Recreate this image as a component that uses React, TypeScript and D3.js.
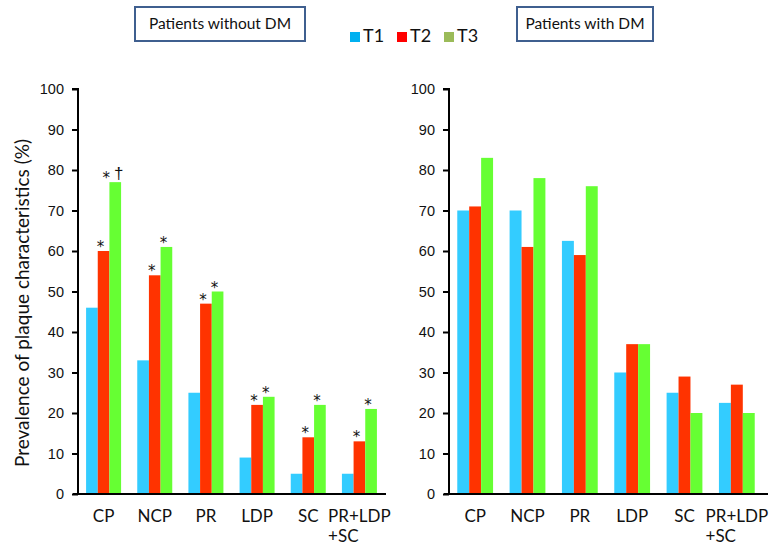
import React, { useEffect, useRef } from "react";
import * as d3 from "d3";

const categories = ["CP", "NCP", "PR", "LDP", "SC", "PR+LDP\n+SC"];
const seriesNames = ["T1", "T2", "T3"];

// Patients without DM
const noDmT1 = [46, 33, 25, 9, 5, 5];
const noDmT2 = [60, 54, 47, 22, 14, 13];
const noDmT3 = [77, 61, 50, 24, 22, 21];
// significance marks (without DM)
const noDmMarkT2 = ["*", "*", "*", "*", "*", "*"];
const noDmMarkT3 = ["*†", "*", "*", "*", "*", "*"];

// Patients with DM
const dmT1 = [70, 70, 62.5, 30, 25, 22.5];
const dmT2 = [71, 61, 59, 37, 29, 27];
const dmT3 = [83, 78, 76, 37, 20, 20];

const yTicks = [0, 10, 20, 30, 40, 50, 60, 70, 80, 90, 100];

const barColors = ["#33ccff", "#ff3300", "#66ff33"];
const legendColors = ["#00b0f0", "#ff0000", "#9bbb59"];

const W = 769;
const H = 547;
const textFont = "Lato, 'Open Sans', sans-serif";
const numFont = "'Liberation Sans', Arial, sans-serif";
const starFont = "'DejaVu Sans', sans-serif";

export default function App() {
  const ref = useRef<SVGSVGElement | null>(null);

  useEffect(() => {
    const svg = d3.select(ref.current);
    svg.selectAll("*").remove();

    const y = d3.scaleLinear().domain([0, 100]).range([494, 89]);

    const panels = [
      {
        x0: 78,
        x1: 385,
        axisEnd: 386,
        series: [noDmT1, noDmT2, noDmT3],
        marks: [null, noDmMarkT2, noDmMarkT3],
      },
      {
        x0: 449,
        x1: 763,
        axisEnd: 768,
        series: [dmT1, dmT2, dmT3],
        marks: [null, null, null],
      },
    ];

    panels.forEach((p) => {
      const g = svg.append("g");
      const x = d3
        .scaleBand<string>()
        .domain(categories)
        .range([p.x0, p.x1])
        .paddingInner(0.316)
        .paddingOuter(0.158);
      const xs = d3
        .scaleBand<string>()
        .domain(seriesNames)
        .range([0, x.bandwidth()]);

      // bars
      p.series.forEach((vals, si) => {
        g.selectAll(null)
          .data(vals)
          .enter()
          .append("rect")
          .attr("x", (_d, i) => (x(categories[i]) as number) + (xs(seriesNames[si]) as number))
          .attr("y", (d) => y(d))
          .attr("width", xs.bandwidth())
          .attr("height", (d) => y(0) - y(d))
          .attr("fill", barColors[si]);

        const marks = p.marks[si];
        if (marks) {
          marks.forEach((m, i) => {
            const cx =
              (x(categories[i]) as number) +
              (xs(seriesNames[si]) as number) +
              xs.bandwidth() / 2;
            const top = y(vals[i]);
            const hasDagger = m.indexOf("†") >= 0;
            g.append("text")
              .attr("x", hasDagger ? cx - 9 : cx - 3)
              .attr("y", top + 1)
              .attr("text-anchor", "middle")
              .attr("font-family", starFont)
              .attr("font-size", 15)
              .attr("fill", "#111")
              .text("*");
            if (hasDagger) {
              g.append("text")
                .attr("x", cx + 3.5)
                .attr("y", top - 3)
                .attr("text-anchor", "middle")
                .attr("font-family", numFont)
                .attr("font-size", 17)
                .attr("fill", "#111")
                .text("†");
            }
          });
        }
      });

      // y axis
      const yAxis = d3
        .axisLeft(y)
        .tickValues(yTicks)
        .tickSize(6)
        .tickPadding(8);
      const ya = g
        .append("g")
        .attr("transform", `translate(${p.x0},0)`)
        .call(yAxis);
      ya.select(".domain").attr("stroke", "#000").attr("stroke-width", 2).attr("d", `M-6,${y(100)}H0V${y(0)}`);
      ya.selectAll(".tick line").attr("stroke", "#000").attr("stroke-width", 2);
      ya.selectAll(".tick text")
        .attr("font-family", numFont)
        .attr("font-size", 14.5)
        .attr("fill", "#111");

      // x axis line
      g.append("line")
        .attr("x1", p.x0 - 5)
        .attr("x2", p.axisEnd)
        .attr("y1", y(0))
        .attr("y2", y(0))
        .attr("stroke", "#000")
        .attr("stroke-width", 2);

      // category labels
      categories.forEach((c) => {
        const lines = c.split("\n");
        const cx = (x(c) as number) + x.bandwidth() / 2;
        const t = g
          .append("text")
          .attr("x", cx)
          .attr("y", 522)
          .attr("text-anchor", "middle")
          .attr("font-family", textFont)
          .attr("font-size", 17)
          .attr("fill", "#111")
          .text(lines[0]);
        if (lines.length > 1) {
          const w = (t.node() as SVGTextElement).getComputedTextLength();
          g.append("text")
            .attr("x", cx - w / 2)
            .attr("y", 542)
            .attr("font-family", textFont)
            .attr("font-size", 17)
            .attr("fill", "#111")
            .text(lines[1]);
        }
      });
    });

    // y axis title
    svg
      .append("text")
      .attr("transform", `translate(29,303) rotate(-90)`)
      .attr("text-anchor", "middle")
      .attr("font-family", textFont)
      .attr("font-size", 19)
      .attr("fill", "#111")
      .text("Prevalence of plaque characteristics (%)");

    // panel title boxes
    const boxes = [
      { x: 135, w: 170, label: "Patients without DM" },
      { x: 517, w: 136, label: "Patients with DM" },
    ];
    boxes.forEach((b) => {
      svg
        .append("rect")
        .attr("x", b.x)
        .attr("y", 7)
        .attr("width", b.w)
        .attr("height", 34)
        .attr("fill", "#fff")
        .attr("stroke", "#3f5f8f")
        .attr("stroke-width", 2);
      svg
        .append("text")
        .attr("x", b.x + b.w / 2)
        .attr("y", 29)
        .attr("text-anchor", "middle")
        .attr("font-family", textFont)
        .attr("font-size", 15.5)
        .attr("fill", "#111")
        .text(b.label);
    });

    // legend
    const lx = d3.scalePoint<string>().domain(seriesNames).range([350, 444]);
    seriesNames.forEach((s, i) => {
      const xx = lx(s) as number;
      svg
        .append("rect")
        .attr("x", xx)
        .attr("y", 32)
        .attr("width", 10)
        .attr("height", 10)
        .attr("fill", legendColors[i]);
      svg
        .append("text")
        .attr("x", xx + 13)
        .attr("y", 42)
        .attr("font-family", textFont)
        .attr("font-size", 18)
        .attr("fill", "#111")
        .text(s);
    });
  }, []);

  return (
    <svg
      ref={ref}
      width={W}
      height={H}
      style={{ position: "absolute", left: 0, top: 0, background: "#fff" }}
    />
  );
}
